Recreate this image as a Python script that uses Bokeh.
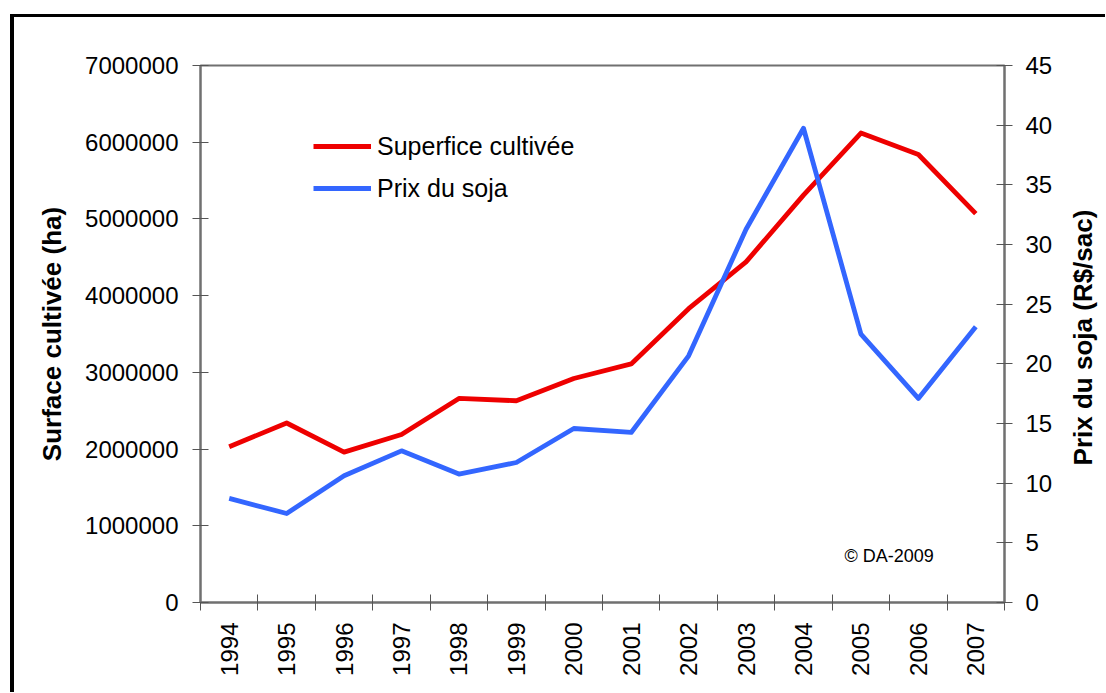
import math
from bokeh.plotting import figure
from bokeh.layouts import row
from bokeh.models import (Range1d, LinearAxis, FixedTicker, Legend, LegendItem,
                          Label, BasicTickFormatter)
from bokeh.embed import file_html
from bokeh.resources import INLINE

# ---- data ----
years = [1994, 1995, 1996, 1997, 1998, 1999, 2000, 2001, 2002, 2003, 2004, 2005, 2006, 2007]
surface = [2030000, 2340000, 1960000, 2190000, 2660000, 2630000, 2920000,
           3110000, 3830000, 4440000, 5310000, 6120000, 5840000, 5070000]
prix = [8.72, 7.46, 10.62, 12.71, 10.76, 11.73, 14.58,
        14.25, 20.67, 31.28, 39.74, 22.49, 17.10, 23.10]
left_ticks = [0, 1000000, 2000000, 3000000, 4000000, 5000000, 6000000, 7000000]
right_ticks = [0, 5, 10, 15, 20, 25, 30, 35, 40, 45]
series_names = ["Superfice cultivée", "Prix du soja"]
left_title = "Surface cultivée (ha)"
right_title = "Prix du soja (R$/sac)"
credit = "© DA-2009"

RED = "#EE0000"
BLUE = "#3366FF"
GRAY = "#707070"
FONT = "Liberation Sans"

bounds = [y - 0.5 for y in years] + [years[-1] + 0.5]

H = 675
p = figure(width=1042, height=H,
           x_range=Range1d(bounds[0], bounds[-1]),
           y_range=Range1d(left_ticks[0], left_ticks[-1]),
           output_backend="svg", toolbar_location=None,
           min_border_left=186, min_border_right=52,
           min_border_top=48, min_border_bottom=90)
p.extra_y_ranges = {"prix": Range1d(right_ticks[0], right_ticks[-1])}
p.grid.visible = False
p.background_fill_color = "white"
p.border_fill_color = "white"
p.outline_line_color = GRAY
p.outline_line_width = 2

# x axis
xa = p.xaxis[0]
xa.ticker = FixedTicker(ticks=years, minor_ticks=bounds)
xa.major_label_overrides = {y: str(y) for y in years}
xa.major_tick_line_color = None
xa.major_tick_out = 8
xa.major_tick_in = 0
xa.minor_tick_in = 8
xa.minor_tick_out = 8
xa.minor_tick_line_color = "#555555"
xa.minor_tick_line_width = 1
xa.major_label_orientation = math.pi / 2
xa.major_label_standoff = 12

# left axis
ya = p.yaxis[0]
ya.ticker = FixedTicker(ticks=left_ticks)
ya.formatter = BasicTickFormatter(use_scientific=False)
ya.major_tick_in = 8
ya.major_tick_out = 8
ya.minor_tick_line_color = None
ya.major_label_standoff = 14
ya.axis_label = left_title
ya.axis_label_standoff = 15

# right axis
ra = LinearAxis(y_range_name="prix", ticker=FixedTicker(ticks=right_ticks))
ra.major_tick_in = 8
ra.major_tick_out = 8
ra.minor_tick_line_color = None
ra.major_label_standoff = 13
p.add_layout(ra, "right")

for ax in (xa, ya, ra):
    ax.axis_line_color = GRAY
    ax.axis_line_width = 2
    ax.major_tick_line_width = 1
    if ax is not xa:
        ax.major_tick_line_color = "#555555"
    ax.major_label_text_font = FONT
    ax.major_label_text_font_size = "24px"
    ax.major_label_text_color = "black"
    ax.axis_label_text_font_size = "26px"
    ax.axis_label_text_font_style = "bold"
    ax.axis_label_text_font = FONT
    ax.axis_label_text_color = "black"

r1 = p.line(years, surface, line_color=RED, line_width=4.8, line_join="round")
r2 = p.line(years, prix, y_range_name="prix", line_color=BLUE, line_width=4.8,
            line_join="round")

legend = Legend(items=[LegendItem(label=series_names[0], renderers=[r1]),
                       LegendItem(label=series_names[1], renderers=[r2])],
                location=(113, 399), padding=0, margin=0, spacing=12,
                glyph_width=58, glyph_height=30, label_height=30,
                label_standoff=6, border_line_color=None,
                background_fill_alpha=0,
                label_text_font=FONT, label_text_font_size="25px",
                label_text_color="black")
p.add_layout(legend)

p.add_layout(Label(x=644, y=47, x_units="screen", y_units="screen", text=credit,
                   text_font=FONT, text_font_size="18px", text_baseline="middle",
                   text_color="black"))

# right-hand title panel (reads bottom-to-top like the reference)
p2 = figure(width=49, height=H, x_range=Range1d(0, 1), y_range=Range1d(0, 1),
            output_backend="svg", toolbar_location=None,
            x_axis_location=None, y_axis_location=None, min_border=0)
p2.grid.visible = False
p2.outline_line_color = None
p2.background_fill_color = "white"
p2.border_fill_color = "white"
p2.add_layout(Label(x=26, y=265, x_units="screen", y_units="screen",
                    text=right_title, angle=math.pi / 2, text_align="center",
                    text_baseline="middle", text_font=FONT, text_font_size="26px",
                    text_font_style="bold", text_color="black"))

layout = row(p, p2, spacing=0,
             styles={"border-left": "4px solid black", "border-top": "3px solid black",
                     "margin-left": "10px", "margin-top": "14px"})

open("out.html", "w").write(file_html(layout, INLINE))
